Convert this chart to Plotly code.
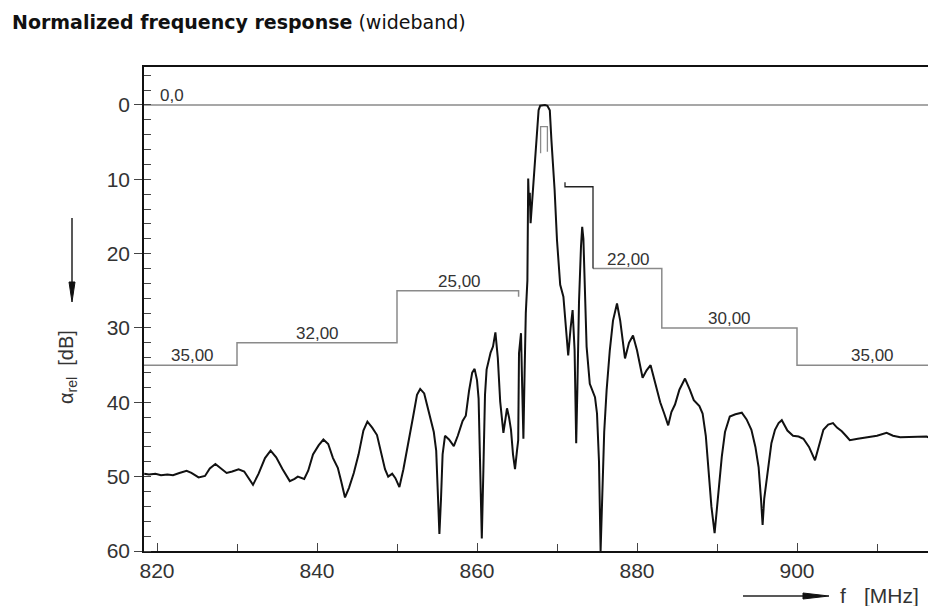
import plotly.graph_objects as go

# ---------------- data ----------------
freq_mhz = [818.4, 819.0, 819.8, 820.5, 821.3, 822.0, 822.8, 823.7, 824.3, 825.2, 826.0, 826.6, 827.3, 828.0,
            828.7, 829.4, 830.2, 830.9, 831.4, 832.0, 832.7, 833.5, 834.2, 834.9, 835.7, 836.6, 837.2, 837.6,
            838.4, 838.9, 839.5, 840.2, 840.8, 841.4, 842.0, 842.6, 843.0, 843.5, 844.0, 844.6, 845.2, 845.8,
            846.3, 846.9, 847.5, 848.0, 848.5, 848.9, 849.4, 849.8, 850.3, 850.8, 851.4, 852.0, 852.5, 852.9,
            853.4, 854.0, 854.6, 854.9, 855.1, 855.3, 855.5, 855.7, 856.0, 856.5, 857.1, 857.6, 858.2, 858.6,
            859.0, 859.4, 859.7, 860.0, 860.2, 860.4, 860.6, 860.8, 861.0, 861.2, 861.7, 862.0, 862.3, 862.6,
            862.9, 863.3, 863.75, 864.0, 864.25, 864.5, 864.75, 865.0, 865.15, 865.25, 865.4, 865.5, 865.65,
            865.8, 865.95, 866.1, 866.3, 866.4, 866.5, 866.6, 866.7, 866.85, 867.05, 867.3, 867.5, 867.7,
            867.9, 868.2, 868.5, 868.8, 869.1, 869.3, 869.5, 869.7, 870.0, 870.2, 870.4, 870.8, 871.1, 871.4,
            871.7, 871.95, 872.2, 872.4, 872.55, 872.75, 873.0, 873.15, 873.3, 873.5, 873.7, 874.1, 874.75,
            875.0, 875.25, 875.45, 875.6, 875.9, 876.2, 876.6, 877.0, 877.5, 877.9, 878.5, 879.0, 879.5,
            880.0, 880.7, 881.2, 881.7, 882.3, 882.9, 883.4, 883.9, 884.3, 884.75, 885.3, 886.0, 886.6, 887.1,
            887.8, 888.2, 888.6, 888.9, 889.3, 889.7, 890.1, 890.6, 891.0, 891.6, 892.3, 893.1, 893.7, 894.3,
            894.8, 895.2, 895.5, 895.7, 895.9, 896.4, 896.8, 897.25, 897.7, 898.1, 898.8, 899.5, 900.2, 900.8,
            901.5, 902.25, 902.8, 903.3, 903.9, 904.5, 905.0, 905.6, 906.2, 906.6, 907.6, 908.7, 910.0, 911.2,
            912.0, 912.9, 914.5, 916.2, 917.4]
att_db = [49.6, 49.7, 49.6, 49.8, 49.7, 49.8, 49.5, 49.2, 49.5, 50.1, 49.9, 48.9, 48.3, 48.9,
          49.5, 49.3, 49.0, 49.3, 50.2, 51.1, 49.6, 47.5, 46.5, 47.4, 49.0, 50.6, 50.3, 50.0,
          50.3, 49.2, 47.0, 45.8, 45.0, 45.6, 47.5, 48.8, 50.5, 52.8, 51.5, 49.5, 47.0, 43.8,
          42.6, 43.4, 44.4, 46.5, 49.0, 50.0, 49.6, 50.2, 51.4, 49.0, 45.7, 42.0, 39.0, 38.2,
          38.8, 41.5, 44.0, 46.5, 52.0, 57.7, 53.0, 47.0, 44.5, 45.0, 45.9, 44.5, 42.5, 41.8,
          38.5, 36.0, 35.5, 37.0, 39.5, 50.0, 58.3, 49.0, 39.0, 35.6, 33.3, 32.5, 30.6, 34.0,
          39.9, 44.1, 40.8, 42.0, 43.7, 47.0, 49.0, 46.5, 45.1, 33.4, 31.5, 30.7, 38.0,
          44.9, 36.0, 28.0, 23.6, 9.9, 13.5, 11.8, 15.9, 13.5, 11.4, 6.0, 3.0, 0.7,
          0.1, 0.0, 0.0, 0.1, 0.7, 4.7, 8.0, 11.4, 18.2, 21.5, 24.2, 25.8, 29.5, 33.7,
          30.0, 27.6, 33.0, 45.5, 38.0, 26.5, 19.0, 16.4, 18.0, 25.0, 32.5, 37.5, 39.3,
          41.5, 48.0, 60.0, 55.0, 44.0, 38.4, 33.0, 29.0, 26.7, 29.0, 34.1, 32.0, 31.0,
          33.0, 36.7, 35.7, 35.0, 37.5, 40.0, 41.5, 43.1, 41.3, 40.3, 38.3, 36.8, 38.3, 39.7,
          40.5, 41.5, 44.5, 48.7, 54.0, 57.6, 53.0, 47.3, 44.0, 41.9, 41.6, 41.4, 42.3, 43.7,
          46.0, 48.7, 53.0, 56.5, 53.0, 48.7, 45.5, 43.7, 42.8, 42.4, 43.8, 44.5, 44.6, 44.9,
          46.0, 47.8, 45.5, 43.7, 43.0, 42.8, 43.4, 43.9, 44.6, 45.1, 44.9, 44.7, 44.5, 44.1,
          44.5, 44.7, 44.7, 44.6, 45.1]

# tolerance mask (stop-band limits)
mask_left_f = [818.0, 830.0, 830.0, 850.0, 850.0, 865.2, 865.2]
mask_left_db = [35.0, 35.0, 32.0, 32.0, 25.0, 25.0, 25.8]
mask_right_hi_f = [871.0, 871.0, 874.5, 874.5]
mask_right_hi_db = [10.4, 11.0, 11.0, 22.0]
mask_right_f = [874.5, 883.1, 883.1, 900.0, 900.0, 918.0]
mask_right_db = [22.0, 22.0, 30.0, 30.0, 35.0, 35.0]
ref_line_f = [818.0, 918.0]
ref_line_db = [0.0, 0.0]
pass_mark_f = [867.95, 867.95, 868.8, 868.8]
pass_mark_db = [6.5, 2.9, 2.9, 6.3]

mask_labels = ["0,0", "35,00", "32,00", "25,00", "22,00", "30,00", "35,00"]
mask_label_f = [820.1, 824.4, 840.1, 857.8, 878.9, 891.6, 909.4]
mask_label_db = [0.0, 35.0, 32.0, 25.0, 22.0, 30.0, 35.0]

x_ticks = [820, 840, 860, 880, 900]
y_ticks = [0, 10, 20, 30, 40, 50, 60]

# ---------------- figure ----------------
OFF = 8  # page body margin
FW, FH = 936 - OFF, 606 - OFF
GRAY = "#8a8a8a"
fig = go.Figure()
fig.add_trace(go.Scatter(x=ref_line_f, y=ref_line_db, mode="lines",
                         line=dict(color=GRAY, width=1.5), hoverinfo="skip"))
fig.add_trace(go.Scatter(x=mask_left_f, y=mask_left_db, mode="lines",
                         line=dict(color=GRAY, width=1.5), hoverinfo="skip"))
fig.add_trace(go.Scatter(x=mask_right_f, y=mask_right_db, mode="lines",
                         line=dict(color=GRAY, width=1.5), hoverinfo="skip"))
fig.add_trace(go.Scatter(x=mask_right_hi_f, y=mask_right_hi_db, mode="lines",
                         line=dict(color="#222", width=1.3), hoverinfo="skip"))
fig.add_trace(go.Scatter(x=pass_mark_f, y=pass_mark_db, mode="lines",
                         line=dict(color=GRAY, width=1.3), hoverinfo="skip"))
fig.add_trace(go.Scatter(x=freq_mhz, y=att_db, mode="lines",
                         line=dict(color="#111", width=2), hoverinfo="skip"))

for txt, xf, yd in zip(mask_labels, mask_label_f, mask_label_db):
    fig.add_annotation(x=xf, y=yd, text=txt, showarrow=False,
                       xanchor="left" if txt == "0,0" else "center", yanchor="bottom",
                       yshift=-2, font=dict(family="Liberation Sans", size=17, color="#333"))

# plot-area edges in page pixels
L, T, R, B = 144, 67, 936, 551
W, H = R - L, B - T


def px(xp):
    return (xp - L) / W


def py(yp):
    return (B - yp) / H


# y axis arrow
fig.add_shape(type="line", xref="paper", yref="paper", x0=px(72), x1=px(72), y0=py(218), y1=py(292),
              line=dict(color="#222", width=1.5))
fig.add_shape(type="path", xref="paper", yref="paper",
              path=f"M {px(69)} {py(282)} L {px(75)} {py(282)} L {px(72)} {py(302)} Z",
              fillcolor="#111", line=dict(color="#111", width=1))
# x axis arrow
fig.add_shape(type="line", xref="paper", yref="paper", x0=px(743), x1=px(810), y0=py(596), y1=py(596),
              line=dict(color="#222", width=1.5))
fig.add_shape(type="path", xref="paper", yref="paper",
              path=f"M {px(803)} {py(593)} L {px(803)} {py(599)} L {px(829)} {py(596)} Z",
              fillcolor="#111", line=dict(color="#111", width=1))

fig.add_annotation(xref="paper", yref="paper", x=px(843), y=py(595), text="f", showarrow=False,
                   xanchor="center", yanchor="middle", font=dict(family="Liberation Sans", size=21, color="#333"))
fig.add_annotation(xref="paper", yref="paper", x=px(891), y=py(595), text="[MHz]", showarrow=False,
                   xanchor="center", yanchor="middle", font=dict(family="Liberation Sans", size=21, color="#333"))
fig.add_annotation(xref="paper", yref="paper", x=px(68), y=py(367), text="α<sub>rel</sub>  [dB]",
                   showarrow=False, textangle=-90, xanchor="center", yanchor="middle",
                   font=dict(family="Liberation Sans", size=20, color="#333"))

fig.update_layout(
    width=FW, height=FH,
    margin=dict(l=L - OFF, r=936 - R, t=T - OFF, b=606 - B, pad=0),
    paper_bgcolor="white", plot_bgcolor="white",
    showlegend=False,
    title=dict(text="<b>Normalized frequency response</b> (wideband)",
               x=(12 - OFF) / FW, xref="container", xanchor="left",
               y=1 - 8 / FH, yref="container", yanchor="top",
               font=dict(family="DejaVu Sans", size=19, color="#111")),
    xaxis=dict(range=[818.375, 917.375], showgrid=False, zeroline=False,
               showline=True, linecolor="#111", linewidth=1.5, mirror=True,
               tickmode="array", tickvals=x_ticks, ticktext=[str(v) for v in x_ticks],
               ticks="inside", ticklen=8, tickcolor="#444", tickwidth=1,
               minor=dict(dtick=10, tick0=0, ticks="inside", ticklen=7, tickcolor="#444"),
               tickfont=dict(family="Liberation Sans", size=21, color="#333")),
    yaxis=dict(range=[60, -5.11], showgrid=False, zeroline=False,
               showline=True, linecolor="#111", linewidth=1.5,
               tickmode="array", tickvals=y_ticks, ticktext=[str(v) for v in y_ticks],
               ticks="outside", ticklen=8, tickcolor="#444", tickwidth=1,
               minor=dict(dtick=2, tick0=0, ticks="inside", ticklen=7, tickcolor="#444"),
               tickfont=dict(family="Liberation Sans", size=21, color="#333")),
)

fig.write_html("out.html")
